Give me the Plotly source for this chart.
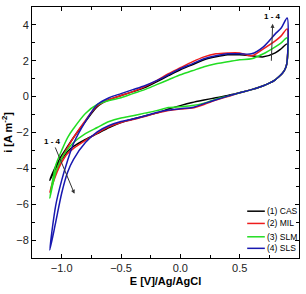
import plotly.graph_objects as go

# Potential grids (V vs Ag/AgCl)
E_up = [-1.1, -1.05, -1.0, -0.95, -0.9, -0.8, -0.7, -0.6, -0.5, -0.4, -0.3, -0.2,
        -0.1, 0.0, 0.1, 0.2, 0.3, 0.4, 0.5, 0.6, 0.7, 0.8, 0.85, 0.9]
E_down = [0.897, 0.88, 0.86, 0.83, 0.8, 0.75, 0.7, 0.6, 0.5, 0.4, 0.3, 0.2, 0.1, 0.0,
          -0.1, -0.2, -0.3, -0.4, -0.5, -0.6, -0.7, -0.8, -0.9, -0.95, -1.0, -1.05, -1.1]

# Current density, anodic (upper) branch
cas_up = [-4.67, -3.89, -3.28, -2.78, -2.28, -1.39, -0.56, -0.17, 0.06, 0.28, 0.50, 0.83,
          1.17, 1.50, 1.78, 2.06, 2.22, 2.33, 2.33, 2.28, 2.22, 2.44, 2.67, 2.94]
mil_up = [-5.33, -4.22, -3.44, -2.83, -2.28, -1.33, -0.50, -0.17, 0.06, 0.28, 0.56, 0.89,
          1.28, 1.61, 1.94, 2.22, 2.39, 2.44, 2.44, 2.28, 2.67, 3.11, 3.39, 3.78]
slm_up = [-5.67, -3.83, -3.00, -2.28, -1.78, -0.94, -0.44, -0.22, -0.06, 0.17, 0.39, 0.67,
          0.94, 1.22, 1.44, 1.67, 1.83, 1.94, 2.06, 2.11, 2.39, 2.78, 3.00, 3.28]
sls_up = [-8.56, -6.06, -4.67, -3.56, -2.61, -1.39, -0.44, -0.06, 0.17, 0.39, 0.61, 0.89,
          1.22, 1.56, 1.83, 2.11, 2.28, 2.39, 2.39, 2.39, 2.78, 3.50, 3.83, 4.39]

# Current density, cathodic (lower) branch
cas_down = [1.83, 1.50, 1.31, 1.11, 0.94, 0.75, 0.61, 0.39, 0.22, 0.06, -0.06, -0.19, -0.33,
            -0.50, -0.69, -0.92, -1.08, -1.25, -1.44, -1.72, -2.06, -2.39, -2.78, -3.06,
            -3.50, -4.00, -4.67]
mil_down = [1.83, 1.50, 1.31, 1.11, 0.94, 0.75, 0.61, 0.39, 0.22, 0.00, -0.19, -0.44, -0.64,
            -0.69, -0.78, -0.92, -1.11, -1.28, -1.44, -1.67, -2.03, -2.44, -2.89, -3.17,
            -3.67, -4.39, -5.33]
slm_down = [1.83, 1.50, 1.31, 1.11, 0.94, 0.75, 0.61, 0.39, 0.22, 0.03, -0.14, -0.36, -0.50,
            -0.56, -0.61, -0.78, -0.92, -1.06, -1.19, -1.39, -1.72, -2.06, -2.56, -2.94,
            -3.44, -4.22, -5.67]
sls_down = [1.83, 1.50, 1.31, 1.11, 0.94, 0.75, 0.61, 0.39, 0.22, 0.03, -0.17, -0.39, -0.61,
            -0.67, -0.75, -0.89, -1.08, -1.25, -1.39, -1.61, -1.97, -2.56, -3.50, -4.22,
            -5.39, -7.00, -8.56]

names = ["(1) CAS", "(2) MIL", "(3) SLM", "(4) SLS"]
colors = ["#000000", "#ee1c1c", "#22dd22", "#1818b0"]
ups = [cas_up, mil_up, slm_up, sls_up]
downs = [cas_down, mil_down, slm_down, sls_down]

FONT = "Liberation Sans, Arial"

fig = go.Figure()
for name, col, up, dn in zip(names, colors, ups, downs):
    fig.add_trace(go.Scatter(
        x=E_up + E_down, y=up + dn, mode="lines", name=name,
        line=dict(color=col, width=1.5, shape="spline", smoothing=0.8),
        showlegend=False,
    ))

axis_common = dict(
    showline=True, linecolor="black", linewidth=1, mirror="ticks",
    ticks="inside", ticklen=4, tickcolor="black", showgrid=False, zeroline=False,
    tickfont=dict(family=FONT, size=11, color="#222"),
)

fig.update_xaxes(
    range=[-1.25, 1.0], dtick=0.5, tick0=0, tickformat=".1f",
    minor=dict(dtick=0.25, ticks="inside", ticklen=3, tickcolor="black", showgrid=False),
    title=dict(text="<b>E [V]/Ag/AgCl</b>", standoff=4,
               font=dict(family=FONT, size=11, color="black")),
    **axis_common,
)
fig.update_yaxes(
    range=[-9, 5], dtick=2, tick0=0,
    minor=dict(dtick=1, ticks="inside", ticklen=3, tickcolor="black", showgrid=False),
    title=dict(text="<b>i [A m<sup>-2</sup>]</b>", standoff=3,
               font=dict(family=FONT, size=11, color="black")),
    **axis_common,
)

ann_font = dict(family=FONT, size=8, color="black")
# top-right label with upward arrow (head next to the label)
fig.add_annotation(x=0.767, y=2.0, ax=0.78, ay=4.45, xref="x", yref="y", axref="x", ayref="y",
                   text="<b>1 - 4</b>", font=ann_font, showarrow=True, arrowside="start",
                   arrowhead=2, startarrowhead=2, startarrowsize=0.8, arrowsize=0.8,
                   arrowwidth=1, arrowcolor="#333", startstandoff=1)
# left label with down-right arrow
fig.add_annotation(x=-0.892, y=-5.42, ax=-1.075, ay=-2.5, xref="x", yref="y", axref="x",
                   ayref="y", text="<b>1 - 4</b>", font=ann_font, showarrow=True,
                   arrowhead=2, arrowsize=0.8, arrowwidth=1, arrowcolor="#333")

# compact legend (bottom right, inside the plot)
leg_y = [0.1865, 0.1377, 0.0845, 0.0385]
for name, col, yy in zip(names, colors, leg_y):
    fig.add_shape(type="line", xref="paper", yref="paper", x0=0.806, x1=0.872, y0=yy, y1=yy,
                  line=dict(color=col, width=1.5))
    fig.add_annotation(x=0.874, y=yy, xref="paper", yref="paper", text=name,
                       xanchor="left", yanchor="middle", showarrow=False,
                       font=dict(family=FONT, size=8.5, color="black"))

fig.update_layout(
    width=306, height=294,
    margin=dict(l=29, r=7, t=6, b=36),
    paper_bgcolor="white", plot_bgcolor="white",
    showlegend=False,
)

fig.write_html("out.html")
